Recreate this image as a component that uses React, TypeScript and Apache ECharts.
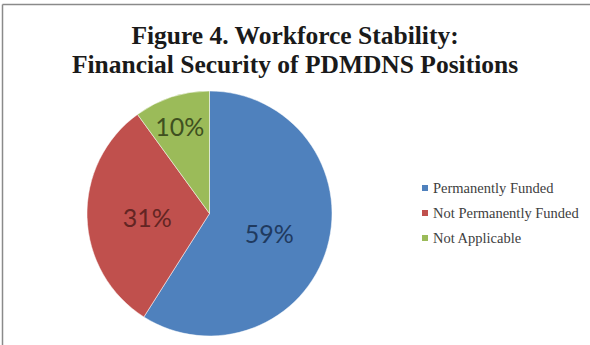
import React, { useEffect, useRef } from "react";
import * as echarts from "echarts";

const titleLines = ["Figure 4. Workforce Stability:", "Financial Security of PDMDNS Positions"];
const categories = ["Permanently Funded", "Not Permanently Funded", "Not Applicable"];
const values = [59, 31, 10];
const sliceColors = ["#4F81BD", "#C0504D", "#9BBB59"];
const labelColors = ["#1F3A5F", "#632523", "#3F5020"];

export default function App() {
  const ref = useRef<HTMLDivElement>(null);
  useEffect(() => {
    document.body.style.margin = "0";
    const chart = echarts.init(ref.current!, null, { renderer: "svg" });
    chart.setOption({
      animation: false,
      backgroundColor: "#ffffff",
      title: {
        text: titleLines.join("\n"),
        left: "center",
        top: 16,
        textStyle: {
          fontFamily: "Liberation Serif",
          fontWeight: "bold",
          fontSize: 25.5,
          lineHeight: 29,
          color: "#1a1a1a",
        },
      },
      legend: {
        orient: "vertical",
        left: 417,
        top: 175,
        itemWidth: 6,
        itemHeight: 6,
        itemGap: 9,
        itemStyle: { borderWidth: 0 },
        icon: "rect",
        data: categories,
        textStyle: {
          fontFamily: "Liberation Serif",
          fontSize: 14.5,
          color: "#404040",
          lineHeight: 16,
        },
      },
      graphic: [
        { type: "line", shape: { x1: 2.5, y1: 4.5, x2: 590, y2: 4.5 }, style: { stroke: "#8a8a8a", lineWidth: 1.5 } },
        { type: "line", shape: { x1: 2.5, y1: 4.5, x2: 2.5, y2: 345 }, style: { stroke: "#8a8a8a", lineWidth: 1.5 } },
      ],
      series: [
        {
          type: "pie",
          center: [209.5, 213.5],
          radius: 122.5,
          startAngle: 90,
          clockwise: true,
          data: categories.map((name, i) => ({
            name,
            value: values[i],
            itemStyle: { color: sliceColors[i] },
            label: { color: labelColors[i] },
          })),
          itemStyle: { borderColor: "#ffffff", borderWidth: 0.5 },
          label: {
            show: true,
            position: "inside",
            formatter: "{c}%",
            fontFamily: "Lato",
            fontSize: 25,
          },
          labelLayout: (p: any) => (p.dataIndex === 2 ? { dx: -10, dy: -26 } : p.dataIndex === 0 ? { dx: -2, dy: 2 } : { dx: 2, dy: 1 }),
          labelLine: { show: false },
          emphasis: { disabled: true },
        },
      ],
    });
    return () => chart.dispose();
  }, []);
  return <div ref={ref} style={{ width: 590, height: 345 }} />;
}
